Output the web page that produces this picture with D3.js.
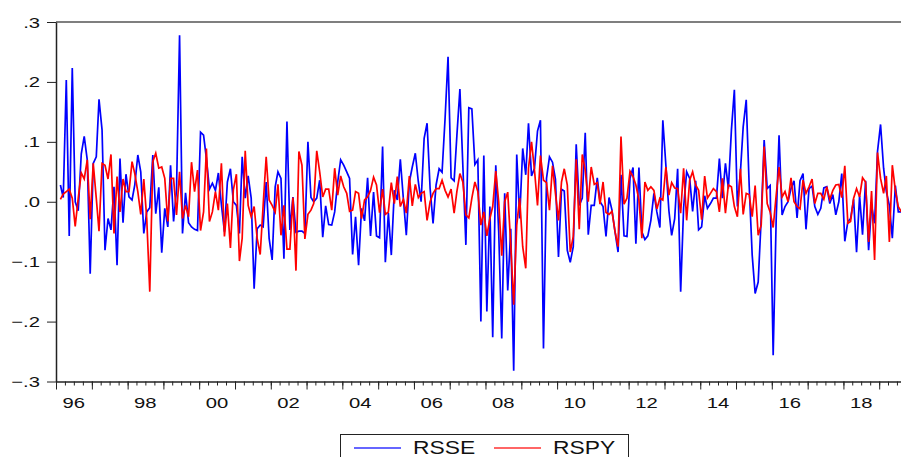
<!DOCTYPE html>
<html>
<head>
<meta charset="utf-8">
<script src="https://cdn.jsdelivr.net/npm/d3@7"></script>
<style>
  html, body { margin: 0; padding: 0; background: #fff; }
  svg { display: block; font-family: "Liberation Sans", Arial, sans-serif; }
</style>
</head>
<body>
<div id="chart"></div>
<script>
// monthly returns, first observation 1996M02
const startYear = 1996, startMonth = 1; // 0-based month -> February

const rsse = [
  0.028, 0.007, 0.203, -0.057, 0.223, 0.000, -0.015, 0.080, 0.109, 0.070,
  -0.120, 0.064, 0.075, 0.171, 0.120, -0.081, -0.028, -0.047, 0.025, -0.106,
  0.072, -0.035, 0.046, 0.008, 0.003, 0.028, 0.078, 0.050, -0.053, -0.017,
  -0.010, 0.078, -0.020, 0.024, -0.085, -0.011, -0.042, 0.061, -0.033, 0.020,
  0.278, -0.053, 0.015, -0.035, -0.042, -0.046, -0.048, 0.116, 0.111, 0.072,
  0.021, 0.031, 0.019, 0.048, -0.005, -0.050, 0.033, 0.055, 0.000, -0.006,
  -0.053, 0.075, 0.006, 0.043, 0.006, -0.145, -0.045, -0.039, -0.042, 0.033,
  -0.061, -0.097, 0.025, 0.050, 0.039, -0.095, 0.134, -0.047, 0.008, -0.051,
  -0.049, -0.049, -0.053, 0.100, 0.007, 0.000, 0.006, 0.036, -0.059, -0.007,
  -0.038, -0.039, -0.017, 0.033, 0.070, 0.061, 0.050, 0.039, -0.088, -0.025,
  -0.106, -0.011, -0.032, 0.040, -0.057, 0.016, -0.057, -0.060, 0.092, -0.101,
  -0.019, -0.089, 0.019, 0.003, 0.071, 0.005, -0.056, 0.033, 0.058, 0.081,
  0.033, 0.000, 0.106, 0.131, 0.022, -0.036, 0.028, 0.055, 0.049, 0.140,
  0.242, 0.040, 0.035, 0.110, 0.188, 0.060, -0.072, 0.157, 0.155, 0.062,
  0.070, -0.200, 0.077, -0.183, -0.008, -0.226, 0.061, -0.050, -0.228, 0.014,
  -0.148, -0.045, -0.282, 0.079, -0.028, 0.089, 0.045, 0.131, 0.043, 0.056,
  0.118, 0.136, -0.245, 0.039, 0.075, 0.066, 0.038, -0.092, 0.021, 0.018,
  -0.081, -0.101, -0.075, 0.096, -0.006, 0.006, 0.115, -0.055, -0.006, -0.006,
  0.040, 0.000, -0.008, -0.058, 0.007, -0.014, -0.050, -0.084, 0.045, -0.057,
  -0.058, 0.039, 0.057, -0.070, 0.057, -0.050, -0.063, -0.057, -0.031, 0.014,
  -0.017, -0.043, 0.136, 0.061, -0.015, -0.056, -0.028, 0.055, -0.150, -0.010,
  0.050, 0.039, -0.016, 0.035, -0.047, -0.042, 0.010, -0.011, -0.003, 0.006,
  0.006, 0.072, 0.006, 0.064, 0.022, 0.120, 0.187, -0.008, 0.050, 0.125,
  0.170, 0.028, -0.089, -0.153, -0.134, -0.028, 0.103, 0.022, 0.027, -0.256,
  -0.028, 0.111, -0.022, -0.008, 0.000, 0.022, 0.035, -0.027, 0.035, 0.047,
  -0.046, 0.022, 0.026, -0.008, -0.021, -0.011, 0.023, 0.025, -0.003, 0.012,
  -0.022, 0.000, 0.047, -0.066, -0.033, -0.028, 0.004, -0.084, 0.010, -0.055,
  0.035, -0.081, -0.006, -0.036, 0.084, 0.129, 0.056, 0.017, -0.006, -0.061,
  0.027, -0.017, -0.017
];

const rspy = [
  0.004, 0.013, 0.017, 0.021, 0.006, -0.041, 0.006, 0.048, 0.038, 0.070,
  -0.029, 0.064, 0.006, -0.049, 0.064, 0.061, 0.038, 0.079, -0.053, 0.042,
  -0.017, 0.038, 0.017, 0.017, 0.067, 0.047, 0.017, -0.021, 0.038, -0.028,
  -0.150, 0.067, 0.081, 0.056, 0.058, 0.039, -0.033, 0.039, 0.039, -0.022,
  0.050, -0.028, -0.006, -0.025, 0.066, 0.017, 0.053, -0.048, -0.017, 0.089,
  -0.033, -0.017, 0.017, -0.014, 0.064, -0.058, -0.003, -0.077, 0.020, 0.046,
  -0.099, -0.061, 0.085, -0.006, -0.025, -0.008, -0.061, -0.088, -0.006, 0.075,
  0.003, -0.006, -0.017, 0.029, -0.056, -0.006, -0.079, -0.079, 0.007, -0.115,
  0.084, 0.061, -0.062, -0.021, -0.014, -0.003, 0.085, 0.050, 0.008, 0.021,
  0.021, -0.014, 0.056, 0.011, 0.043, 0.025, 0.014, -0.016, -0.014, 0.017,
  0.014, -0.028, 0.003, 0.008, 0.019, 0.041, 0.028, -0.018, 0.021, -0.021,
  -0.017, 0.032, -0.003, 0.042, -0.008, 0.004, -0.019, 0.043, -0.007, 0.029,
  0.007, 0.014, 0.017, -0.031, 0.000, 0.014, 0.022, 0.022, 0.036, 0.019,
  0.008, 0.021, -0.019, 0.017, 0.047, 0.033, -0.022, -0.027, 0.006, 0.033,
  0.017, -0.039, -0.017, -0.057, -0.028, -0.008, 0.051, 0.000, -0.090, 0.000,
  0.016, -0.072, -0.172, -0.039, 0.006, -0.075, -0.111, 0.056, 0.100, 0.053,
  -0.006, 0.077, 0.036, 0.032, -0.014, 0.060, 0.014, -0.031, 0.033, 0.055,
  0.028, -0.084, -0.058, 0.071, -0.046, 0.079, 0.053, 0.000, 0.058, 0.029,
  0.032, -0.004, 0.033, -0.018, -0.021, -0.016, -0.050, -0.075, 0.109, -0.004,
  0.006, 0.051, 0.042, 0.028, 0.003, -0.061, 0.033, 0.019, 0.025, 0.019,
  -0.012, 0.006, 0.003, 0.058, 0.011, 0.032, 0.023, 0.022, -0.019, 0.056,
  -0.031, 0.036, 0.050, 0.028, 0.019, -0.030, 0.043, 0.006, 0.014, 0.022,
  0.017, -0.017, 0.039, -0.019, 0.028, 0.025, -0.008, -0.025, 0.055, -0.021,
  0.014, 0.012, -0.025, 0.027, -0.056, -0.039, 0.092, -0.003, -0.017, -0.043,
  0.011, 0.058, 0.008, 0.017, 0.000, 0.040, 0.000, -0.008, -0.012, 0.036,
  0.014, 0.025, 0.038, -0.003, 0.014, 0.014, 0.004, 0.025, 0.004, 0.019,
  0.028, 0.029, 0.007, 0.060, -0.036, -0.033, 0.006, 0.022, 0.008, 0.040,
  0.033, -0.067, 0.018, -0.097, 0.082, 0.039, 0.014, 0.043, -0.067, 0.061,
  0.019, -0.008, -0.017
];

const yTicks = [-0.3, -0.2, -0.1, 0.0, 0.1, 0.2, 0.3];
const labelYears = [1996, 1998, 2000, 2002, 2004, 2006, 2008, 2010, 2012, 2014, 2016, 2018];
const tickLabels = ["96", "98", "00", "02", "04", "06", "08", "10", "12", "14", "16", "18"];
const seriesNames = ["RSSE", "RSPY"];
const seriesColors = ["#0000ff", "#ff0000"];

const width = 901, height = 457;
const margin = {left: 56, top: 22, bottom: 381.5};
const stretch = 1.35; // EViews text is drawn wider than tall

const svg = d3.select("#chart").append("svg")
    .attr("width", width)
    .attr("height", height);

const x = d3.scaleTime()
    .domain([new Date(1996, 0, 1), new Date(2019, 8, 1)])
    .range([margin.left, 903]);

const y = d3.scaleLinear()
    .domain([-0.3, 0.3])
    .range([margin.bottom, margin.top]);

const dateOf = i => new Date(startYear, startMonth + i, 15);

// frame top
svg.append("line")
    .attr("x1", margin.left).attr("x2", width + 5)
    .attr("y1", margin.top).attr("y2", margin.top)
    .attr("stroke", "#555").attr("stroke-width", 1.5);

// quarterly small ticks
svg.append("g")
    .attr("transform", `translate(0,${margin.bottom})`)
    .call(d3.axisBottom(x)
        .tickValues(d3.timeMonth.every(3).range(new Date(1996, 0, 1), new Date(2019, 9, 1)))
        .tickSize(4).tickFormat(""))
    .call(g => g.select(".domain").remove())
    .selectAll("line").attr("stroke", "#222");

// yearly tall ticks + axis line
svg.append("g")
    .attr("transform", `translate(0,${margin.bottom})`)
    .call(d3.axisBottom(x)
        .tickValues(d3.timeYear.range(new Date(1996, 0, 1), new Date(2020, 0, 1)))
        .tickSize(8).tickSizeOuter(0).tickFormat(""))
    .call(g => g.select(".domain").attr("stroke", "#222").attr("stroke-width", 1.5))
    .selectAll("line").attr("stroke", "#222");

// year labels centred on each labelled year
svg.append("g").selectAll("g")
    .data(labelYears)
    .join("g")
    .attr("transform", d => `translate(${x(new Date(d, 6, 1))},408) scale(${stretch},1)`)
    .append("text")
    .attr("text-anchor", "middle")
    .attr("font-size", 15)
    .attr("fill", "#111")
    .text((d, i) => tickLabels[i]);

// y axis
const fmt = v => d3.format(".1f")(v).replace("0.", ".");
svg.append("g")
    .attr("transform", `translate(${margin.left},0)`)
    .call(d3.axisLeft(y).tickValues(yTicks).tickSize(9).tickSizeOuter(0).tickFormat(""))
    .call(g => g.select(".domain").attr("stroke", "#222").attr("stroke-width", 1.5))
    .selectAll("line").attr("stroke", "#222");

svg.append("g").selectAll("g")
    .data(yTicks)
    .join("g")
    .attr("transform", d => `translate(40,${y(d) + 5.5}) scale(${stretch},1)`)
    .append("text")
    .attr("text-anchor", "end")
    .attr("font-size", 15)
    .attr("fill", "#111")
    .text(fmt);

// series
const line = d3.line()
    .x((d, i) => x(dateOf(i)))
    .y(d => y(d));

[rsse, rspy].forEach((s, k) => {
  svg.append("path")
      .datum(s)
      .attr("fill", "none")
      .attr("stroke", seriesColors[k])
      .attr("stroke-width", 1.7)
      .attr("stroke-linejoin", "miter")
      .attr("d", line);
});

// legend
const legend = svg.append("g");
legend.append("rect")
    .attr("x", 340.5).attr("y", 434.5)
    .attr("width", 288).attr("height", 40)
    .attr("fill", "#fff").attr("stroke", "#222").attr("stroke-width", 1);

const legX = [354, 494];
seriesNames.forEach((name, k) => {
  legend.append("line")
      .attr("x1", legX[k]).attr("x2", legX[k] + 47)
      .attr("y1", 448).attr("y2", 448)
      .attr("stroke", seriesColors[k]).attr("stroke-width", 1.4)
      .attr("stroke-opacity", 0.8);
  legend.append("g")
      .attr("transform", `translate(${legX[k] + 59},454) scale(1.27,1)`)
      .append("text")
      .attr("font-size", 18)
      .attr("fill", "#111")
      .text(name);
});
</script>
</body>
</html>
